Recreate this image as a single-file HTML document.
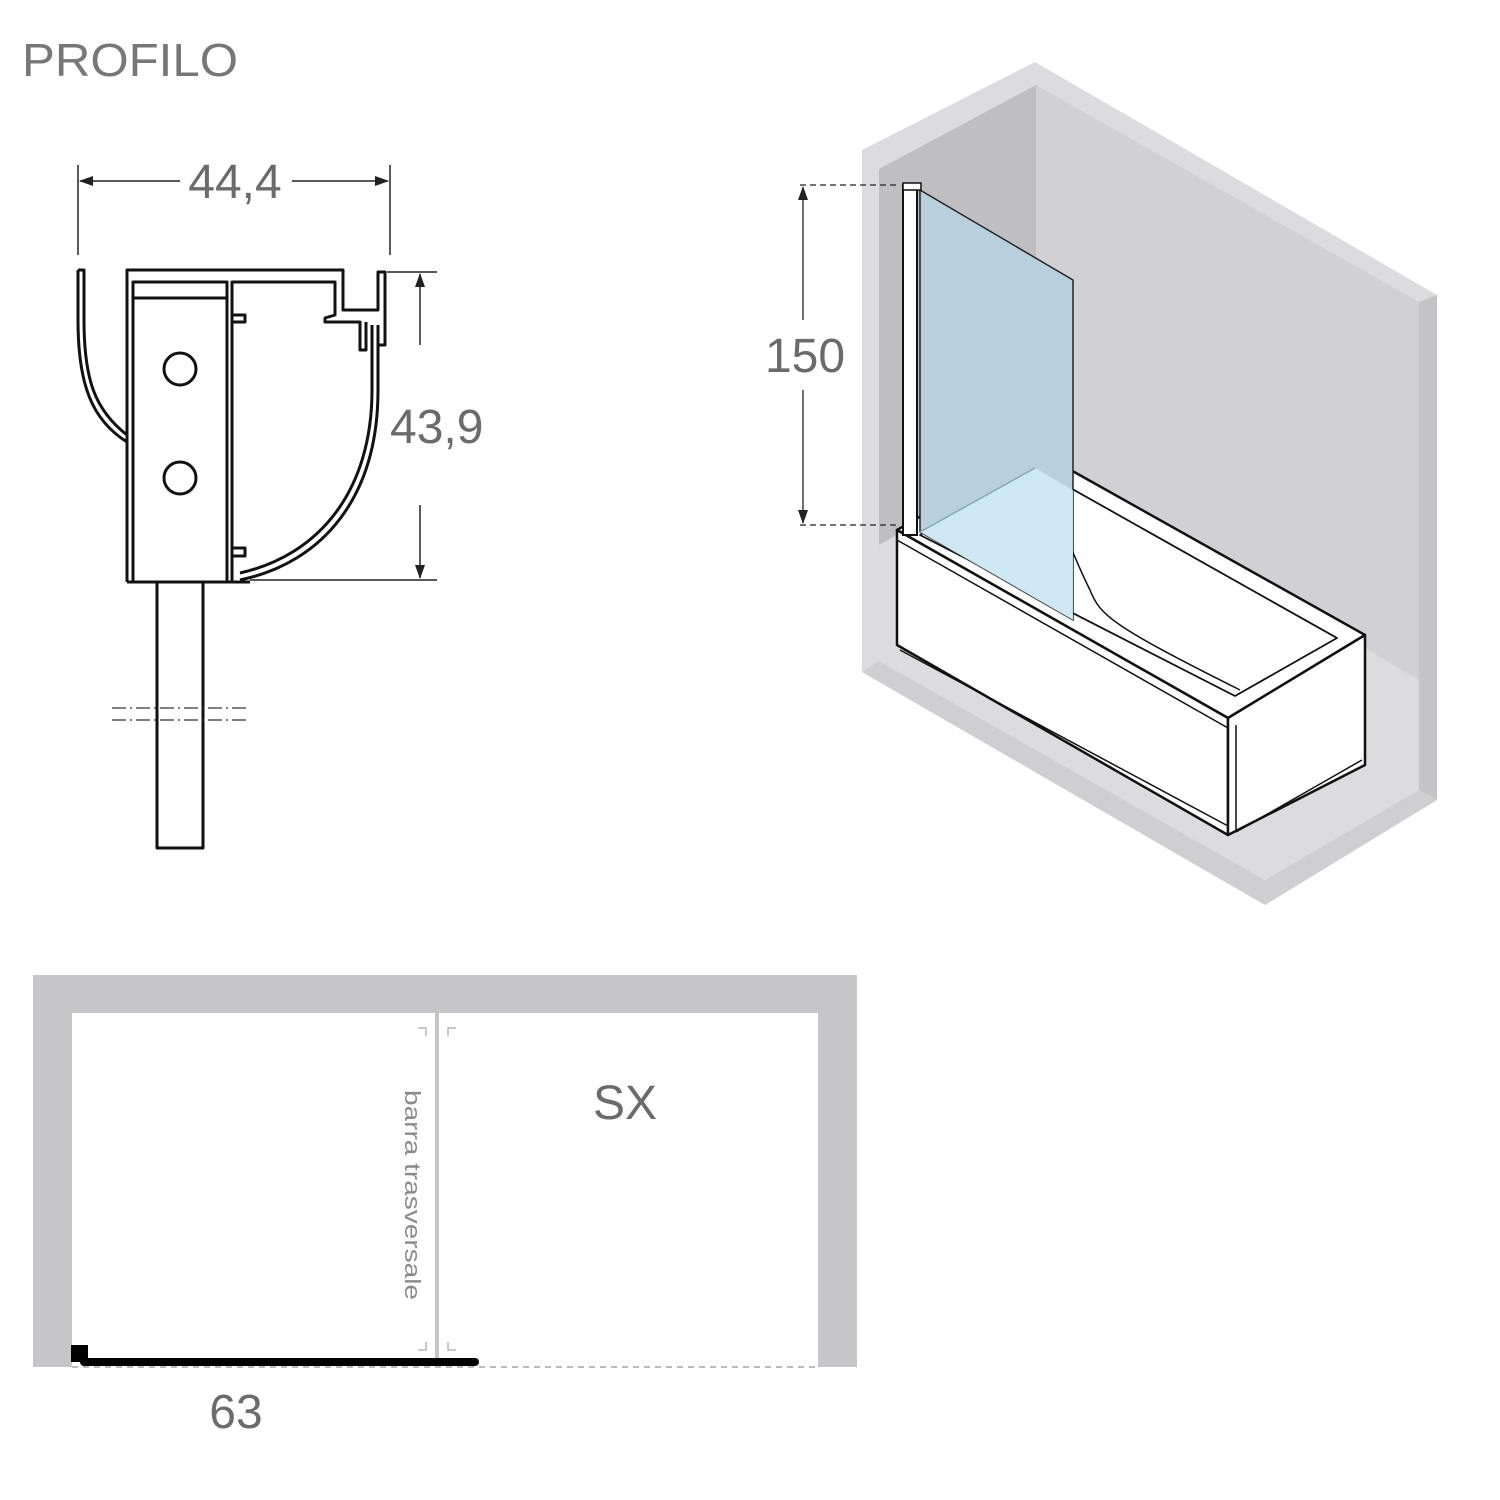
<!DOCTYPE html>
<html><head><meta charset="utf-8"><style>
html,body{margin:0;padding:0;background:#fff;width:1500px;height:1500px;overflow:hidden}
svg{display:block}
text{font-family:"Liberation Sans",sans-serif;fill:#6b6b6b}
</style></head><body>
<svg width="1500" height="1500" viewBox="0 0 1500 1500" xmlns="http://www.w3.org/2000/svg">
<defs>
<marker id="ar" markerWidth="14" markerHeight="10" refX="13" refY="5" orient="auto" markerUnits="userSpaceOnUse"><path d="M0,0 L14,5 L0,10 z" fill="#222"/></marker>
<marker id="al" markerWidth="14" markerHeight="10" refX="1" refY="5" orient="auto" markerUnits="userSpaceOnUse"><path d="M14,0 L0,5 L14,10 z" fill="#222"/></marker>
</defs>

<text x="22" y="76" font-size="46" textLength="216" lengthAdjust="spacingAndGlyphs" style="fill:#777">PROFILO</text>

<!-- profile dimensions -->
<g stroke="#222" stroke-width="1.5" fill="none">
<line x1="78" y1="165" x2="78" y2="255"/>
<line x1="390" y1="165" x2="390" y2="255"/>
<line x1="80" y1="181" x2="180" y2="181" marker-start="url(#al)"/>
<line x1="292" y1="181" x2="388" y2="181" marker-end="url(#ar)"/>
<line x1="387" y1="272" x2="437" y2="272"/>
<line x1="250" y1="580" x2="437" y2="580"/>
<line x1="420" y1="274" x2="420" y2="345" marker-start="url(#al)"/>
<line x1="420" y1="505" x2="420" y2="578" marker-end="url(#ar)"/>
</g>
<text x="235" y="198" font-size="48" text-anchor="middle">44,4</text>
<text x="390" y="443" font-size="48">43,9</text>

<!-- profile -->
<g stroke="#111" stroke-width="3" fill="none" stroke-linejoin="round">
<path d="M127,582 L127,270 L343,270 L343,310 L378,310 L378,272 L385,272 L385,345 L378,345"/>
<path d="M133,582 L133,282 L227,282 L227,582"/>
<line x1="133" y1="298" x2="227" y2="298"/>
<path d="M232,582 L232,282 L335,282 L335,315 L325,318 L325,322 L360,322 L360,350 L366,350 L366,322"/>
<path d="M232,315 L245,315 L245,322 L232,322"/>
<circle cx="180" cy="369" r="16"/>
<circle cx="180" cy="478" r="16"/>
<path d="M78,270 L84,270 L84,320 C84,380 95,410 127,435"/>
<path d="M78,270 L78,320 C78,385 92,420 127,442"/>
<path d="M372,325 L372,390 C372,490 320,555 240,573"/>
<path d="M378,325 L378,390 C378,495 325,562 240,580"/>
<path d="M232,548 L245,548 L245,556 L232,556"/>
<line x1="127" y1="582" x2="250" y2="582"/>
<rect x="157" y="582" width="46" height="266"/>
</g>
<g stroke="#333" stroke-width="1.2" stroke-dasharray="14,4,2,4">
<line x1="112" y1="708" x2="248" y2="708"/>
<line x1="112" y1="720" x2="248" y2="720"/>
</g>

<!-- room -->
<polygon points="862,150 1035,62 1437,295 1437,800 1265,905 862,672" fill="#dcdcde"/>
<polygon points="1419,302 1437,295 1437,800 1419,790" fill="#c4c4c7"/>
<polygon points="879,661 1265,880 1419,790 1437,800 1265,905 862,672" fill="#cfcfd2"/>
<polygon points="1036,85 1419,302 1419,680 1036,455" fill="#d1d1d4"/>
<polygon points="879,169 1036,85 1036,455 879,545" fill="#bfbfc2"/>
<polygon points="879,545 1036,455 1419,680 1419,790 1265,880 879,661" fill="#dcdcde"/>

<!-- tub -->
<g stroke="#111" stroke-width="2.5" stroke-linejoin="round">
<polygon points="897,530 1035,450 1365,635 1228,718" fill="#fff"/>
<polygon points="897,530 1228,718 1228,835 897,645" fill="#fff"/>
<polygon points="1228,718 1365,635 1365,765 1228,835" fill="#fff"/>
<polygon points="920,535 1035,468 1337,638 1235,696" fill="#fff" stroke-width="1.8"/>
</g>
<g stroke="#111" stroke-width="1.5" fill="none">
<line x1="897" y1="540" x2="1228" y2="728"/>
<line x1="900" y1="650" x2="1228" y2="826"/>
<line x1="1236" y1="725" x2="1236" y2="830"/>
<line x1="1236" y1="832" x2="1362" y2="760"/>
<path d="M1040,472 C1060,520 1075,560 1090,590 C1100,615 1110,625 1240,690"/>
</g>
<!-- glass -->
<polygon points="920,190 1073,280 1073,620 920,532" fill="#b8d0de" stroke="#222" stroke-width="1.5"/>
<polygon points="920,532 1035,468 1073,490 1073,620" fill="#cfe9f5" opacity="0.9"/>
<line x1="920" y1="532" x2="1035" y2="468" stroke="#8aa" stroke-width="1.5"/>
<rect x="903" y="185" width="14" height="350" fill="#fff" stroke="#111" stroke-width="2"/>
<rect x="903" y="183" width="18" height="7" fill="#fff" stroke="#111" stroke-width="1.5"/>

<!-- 150 dim -->
<g stroke="#222" stroke-width="1.3">
<line x1="800" y1="185" x2="900" y2="185" stroke-dasharray="6,4"/>
<line x1="800" y1="525" x2="900" y2="525" stroke-dasharray="6,4"/>
<line x1="803" y1="187" x2="803" y2="320" marker-start="url(#al)"/>
<line x1="803" y1="390" x2="803" y2="523" marker-end="url(#ar)"/>
</g>
<text x="805" y="372" font-size="48" text-anchor="middle">150</text>

<!-- plan -->
<path d="M33,975 H857 V1367 H818 V1013 H72 V1367 H33 Z" fill="#c6c6c9"/>
<line x1="72" y1="1367" x2="818" y2="1367" stroke="#bbb" stroke-width="2" stroke-dasharray="6,5"/>
<line x1="437" y1="1013" x2="437" y2="1362" stroke="#c4c4c6" stroke-width="4"/>
<g stroke="#aaa" stroke-width="1.3" fill="none">
<path d="M418,1028 H426 V1036"/><path d="M456,1028 H448 V1036"/>
<path d="M418,1350 H426 V1342"/><path d="M456,1350 H448 V1342"/>
</g>
<line x1="84" y1="1362" x2="475" y2="1362" stroke="#000" stroke-width="8" stroke-linecap="round"/>
<rect x="71" y="1345" width="17" height="17" fill="#000"/>
<text x="0" y="0" font-size="22" textLength="210" lengthAdjust="spacingAndGlyphs" transform="translate(405,1090) rotate(90)" style="fill:#8a8a8a">barra trasversale</text>
<text x="625" y="1119" font-size="48" text-anchor="middle">SX</text>
<text x="236" y="1428" font-size="48" text-anchor="middle">63</text>
</svg>
</body></html>
